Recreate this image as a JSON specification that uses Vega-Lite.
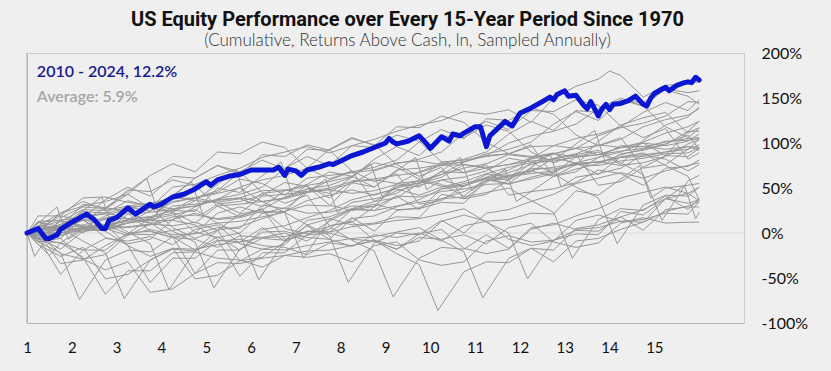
{"$schema":"https://vega.github.io/schema/vega-lite/v6.json","autosize":{"type":"none"},"width":717,"height":270,"padding":{"left":27,"top":53,"right":87,"bottom":48},"background":"#efefef",
"title":{"text":"US Equity Performance over Every 15-Year Period Since 1970","subtitle":"(Cumulative, Returns Above Cash, ln, Sampled Annually)","anchor":"middle","dx":22,"offset":-4,"font":"Roboto","fontSize":20,"fontWeight":"bold","color":"#111111","subtitleFont":"Lato","subtitleFontSize":17,"subtitleFontWeight":300,"subtitleColor":"#333333","subtitlePadding":3},
"config":{"view":{"stroke":"#cccccc"}},
"datasets":{
"b":[{"x":1,"y":0},{"x":1.25,"y":5},{"x":1.42,"y":-6},{"x":1.5,"y":-6},{"x":1.67,"y":-2},{"x":1.75,"y":4},{"x":2,"y":12},{"x":2.25,"y":19},{"x":2.33,"y":21},{"x":2.5,"y":15},{"x":2.67,"y":5},{"x":2.75,"y":5},{"x":2.83,"y":14},{"x":3,"y":17},{"x":3.25,"y":28},{"x":3.42,"y":21},{"x":3.75,"y":32},{"x":3.83,"y":29},{"x":4,"y":32},{"x":4.25,"y":40},{"x":4.5,"y":43},{"x":4.75,"y":49},{"x":5,"y":57},{"x":5.1,"y":53},{"x":5.25,"y":59},{"x":5.5,"y":63},{"x":5.75,"y":65},{"x":6,"y":70},{"x":6.25,"y":70},{"x":6.5,"y":70},{"x":6.62,"y":73},{"x":6.75,"y":64},{"x":6.83,"y":71},{"x":7,"y":69},{"x":7.12,"y":64},{"x":7.25,"y":70},{"x":7.5,"y":73},{"x":7.75,"y":77},{"x":7.83,"y":76},{"x":8,"y":80},{"x":8.25,"y":86},{"x":8.5,"y":90},{"x":8.75,"y":95},{"x":9,"y":100},{"x":9.08,"y":105},{"x":9.17,"y":101},{"x":9.25,"y":99},{"x":9.5,"y":102},{"x":9.75,"y":108},{"x":9.92,"y":99},{"x":10,"y":94},{"x":10.25,"y":107},{"x":10.42,"y":102},{"x":10.5,"y":110},{"x":10.67,"y":108},{"x":10.75,"y":111},{"x":11,"y":118},{"x":11.12,"y":118},{"x":11.25,"y":96},{"x":11.33,"y":108},{"x":11.5,"y":116},{"x":11.67,"y":124},{"x":11.75,"y":121},{"x":11.83,"y":119},{"x":12,"y":133},{"x":12.25,"y":139},{"x":12.5,"y":146},{"x":12.67,"y":151},{"x":12.75,"y":148},{"x":12.83,"y":154},{"x":13,"y":158},{"x":13.08,"y":152},{"x":13.25,"y":153},{"x":13.42,"y":142},{"x":13.5,"y":138},{"x":13.58,"y":146},{"x":13.75,"y":130},{"x":13.83,"y":138},{"x":13.92,"y":143},{"x":14,"y":137},{"x":14.08,"y":143},{"x":14.25,"y":144},{"x":14.42,"y":147},{"x":14.58,"y":152},{"x":14.75,"y":143},{"x":14.83,"y":141},{"x":14.92,"y":150},{"x":15,"y":155},{"x":15.17,"y":160},{"x":15.25,"y":162},{"x":15.33,"y":158},{"x":15.5,"y":164},{"x":15.67,"y":167},{"x":15.75,"y":168},{"x":15.83,"y":167},{"x":15.92,"y":173},{"x":16,"y":170}],
"g":[
{"p":1970,"x":1,"y":0},{"p":1970,"x":1.5,"y":-25},{"p":1970,"x":1.75,"y":-11},{"p":1970,"x":2.25,"y":6},{"p":1970,"x":2.75,"y":3},{"p":1970,"x":3.25,"y":11},{"p":1970,"x":3.75,"y":14},{"p":1970,"x":4.25,"y":14},{"p":1970,"x":4.75,"y":9},{"p":1970,"x":5.25,"y":-7},{"p":1970,"x":5.75,"y":-48},{"p":1970,"x":6.25,"y":-22},{"p":1970,"x":6.75,"y":-22},{"p":1970,"x":7.25,"y":-2},{"p":1970,"x":7.75,"y":0},{"p":1970,"x":8.25,"y":-7},{"p":1970,"x":8.75,"y":-9},{"p":1970,"x":9.25,"y":-18},{"p":1970,"x":9.75,"y":-5},{"p":1970,"x":10.25,"y":-7},{"p":1970,"x":10.75,"y":-2},{"p":1970,"x":11.25,"y":-12},{"p":1970,"x":11.75,"y":6},{"p":1970,"x":12.25,"y":11},{"p":1970,"x":12.75,"y":-10},{"p":1970,"x":13.25,"y":-16},{"p":1970,"x":13.75,"y":-11},{"p":1970,"x":14.25,"y":11},{"p":1970,"x":14.75,"y":17},{"p":1970,"x":15.25,"y":11},{"p":1970,"x":15.75,"y":12},{"p":1970,"x":16,"y":12},
{"p":1971,"x":1,"y":0},{"p":1971,"x":1.25,"y":8},{"p":1971,"x":1.75,"y":5},{"p":1971,"x":2.25,"y":14},{"p":1971,"x":2.75,"y":16},{"p":1971,"x":3.25,"y":16},{"p":1971,"x":3.75,"y":11},{"p":1971,"x":4.25,"y":-4},{"p":1971,"x":4.75,"y":-45},{"p":1971,"x":5.25,"y":-19},{"p":1971,"x":5.75,"y":-19},{"p":1971,"x":6.25,"y":1},{"p":1971,"x":6.75,"y":2},{"p":1971,"x":7.25,"y":-5},{"p":1971,"x":7.75,"y":-7},{"p":1971,"x":8.25,"y":-15},{"p":1971,"x":8.75,"y":-2},{"p":1971,"x":9.25,"y":-5},{"p":1971,"x":9.75,"y":0},{"p":1971,"x":10.25,"y":-9},{"p":1971,"x":10.75,"y":8},{"p":1971,"x":11.25,"y":13},{"p":1971,"x":11.75,"y":-7},{"p":1971,"x":12.25,"y":-14},{"p":1971,"x":12.75,"y":-9},{"p":1971,"x":13.25,"y":14},{"p":1971,"x":13.75,"y":20},{"p":1971,"x":14.25,"y":13},{"p":1971,"x":14.75,"y":15},{"p":1971,"x":15.25,"y":22},{"p":1971,"x":15.75,"y":21},{"p":1971,"x":16,"y":35},
{"p":1972,"x":1,"y":0},{"p":1972,"x":1.25,"y":5},{"p":1972,"x":1.75,"y":7},{"p":1972,"x":2.25,"y":7},{"p":1972,"x":2.75,"y":2},{"p":1972,"x":3.25,"y":-14},{"p":1972,"x":3.75,"y":-55},{"p":1972,"x":4.25,"y":-28},{"p":1972,"x":4.75,"y":-28},{"p":1972,"x":5.25,"y":-9},{"p":1972,"x":5.75,"y":-7},{"p":1972,"x":6.25,"y":-14},{"p":1972,"x":6.75,"y":-16},{"p":1972,"x":7.25,"y":-24},{"p":1972,"x":7.75,"y":-11},{"p":1972,"x":8.25,"y":-14},{"p":1972,"x":8.75,"y":-9},{"p":1972,"x":9.25,"y":-18},{"p":1972,"x":9.75,"y":-1},{"p":1972,"x":10.25,"y":4},{"p":1972,"x":10.75,"y":-17},{"p":1972,"x":11.25,"y":-23},{"p":1972,"x":11.75,"y":-18},{"p":1972,"x":12.25,"y":4},{"p":1972,"x":12.75,"y":11},{"p":1972,"x":13.25,"y":4},{"p":1972,"x":13.75,"y":6},{"p":1972,"x":14.25,"y":13},{"p":1972,"x":14.75,"y":12},{"p":1972,"x":15.25,"y":38},{"p":1972,"x":15.75,"y":33},{"p":1972,"x":16,"y":37},
{"p":1973,"x":1,"y":0},{"p":1973,"x":1.25,"y":-7},{"p":1973,"x":1.75,"y":-11},{"p":1973,"x":2.25,"y":-27},{"p":1973,"x":2.75,"y":-68},{"p":1973,"x":3.25,"y":-42},{"p":1973,"x":3.75,"y":-42},{"p":1973,"x":4.25,"y":-22},{"p":1973,"x":4.75,"y":-21},{"p":1973,"x":5.25,"y":-28},{"p":1973,"x":5.75,"y":-30},{"p":1973,"x":6.25,"y":-38},{"p":1973,"x":6.75,"y":-25},{"p":1973,"x":7.25,"y":-27},{"p":1973,"x":7.75,"y":-23},{"p":1973,"x":8.25,"y":-32},{"p":1973,"x":8.75,"y":-14},{"p":1973,"x":9.25,"y":-10},{"p":1973,"x":9.75,"y":-30},{"p":1973,"x":10.25,"y":-36},{"p":1973,"x":10.75,"y":-32},{"p":1973,"x":11.25,"y":-9},{"p":1973,"x":11.75,"y":-3},{"p":1973,"x":12.25,"y":-10},{"p":1973,"x":12.75,"y":-8},{"p":1973,"x":13.25,"y":-1},{"p":1973,"x":13.75,"y":-2},{"p":1973,"x":14.25,"y":24},{"p":1973,"x":14.75,"y":20},{"p":1973,"x":15.67,"y":53},{"p":1973,"x":15.92,"y":16},{"p":1973,"x":16,"y":23},
{"p":1974,"x":1,"y":0},{"p":1974,"x":1.25,"y":-5},{"p":1974,"x":1.75,"y":-46},{"p":1974,"x":2.25,"y":-19},{"p":1974,"x":2.75,"y":-19},{"p":1974,"x":3.25,"y":0},{"p":1974,"x":3.75,"y":2},{"p":1974,"x":4.25,"y":-5},{"p":1974,"x":4.75,"y":-7},{"p":1974,"x":5.25,"y":-16},{"p":1974,"x":5.75,"y":-3},{"p":1974,"x":6.25,"y":-5},{"p":1974,"x":6.75,"y":0},{"p":1974,"x":7.25,"y":-9},{"p":1974,"x":7.75,"y":8},{"p":1974,"x":8.25,"y":13},{"p":1974,"x":8.75,"y":-8},{"p":1974,"x":9.25,"y":-14},{"p":1974,"x":9.75,"y":-9},{"p":1974,"x":10.25,"y":13},{"p":1974,"x":10.75,"y":20},{"p":1974,"x":11.25,"y":13},{"p":1974,"x":11.75,"y":15},{"p":1974,"x":12.25,"y":22},{"p":1974,"x":12.75,"y":21},{"p":1974,"x":13.25,"y":47},{"p":1974,"x":13.75,"y":42},{"p":1974,"x":14.67,"y":75},{"p":1974,"x":14.92,"y":39},{"p":1974,"x":15.25,"y":50},{"p":1974,"x":15.75,"y":53},{"p":1974,"x":16,"y":55},
{"p":1975,"x":1,"y":0},{"p":1975,"x":1.25,"y":19},{"p":1975,"x":1.75,"y":19},{"p":1975,"x":2.25,"y":39},{"p":1975,"x":2.75,"y":40},{"p":1975,"x":3.25,"y":34},{"p":1975,"x":3.75,"y":31},{"p":1975,"x":4.25,"y":23},{"p":1975,"x":4.75,"y":36},{"p":1975,"x":5.25,"y":34},{"p":1975,"x":5.75,"y":38},{"p":1975,"x":6.25,"y":29},{"p":1975,"x":6.75,"y":47},{"p":1975,"x":7.25,"y":52},{"p":1975,"x":7.75,"y":31},{"p":1975,"x":8.25,"y":25},{"p":1975,"x":8.75,"y":30},{"p":1975,"x":9.25,"y":52},{"p":1975,"x":9.75,"y":58},{"p":1975,"x":10.25,"y":52},{"p":1975,"x":10.75,"y":53},{"p":1975,"x":11.25,"y":60},{"p":1975,"x":11.75,"y":59},{"p":1975,"x":12.25,"y":85},{"p":1975,"x":12.75,"y":81},{"p":1975,"x":13.67,"y":114},{"p":1975,"x":13.92,"y":77},{"p":1975,"x":14.25,"y":88},{"p":1975,"x":14.75,"y":92},{"p":1975,"x":15.25,"y":98},{"p":1975,"x":15.75,"y":113},{"p":1975,"x":16,"y":113},
{"p":1976,"x":1,"y":0},{"p":1976,"x":1.25,"y":13},{"p":1976,"x":1.75,"y":14},{"p":1976,"x":2.25,"y":8},{"p":1976,"x":2.75,"y":5},{"p":1976,"x":3.25,"y":-3},{"p":1976,"x":3.75,"y":10},{"p":1976,"x":4.25,"y":8},{"p":1976,"x":4.75,"y":12},{"p":1976,"x":5.25,"y":3},{"p":1976,"x":5.75,"y":21},{"p":1976,"x":6.25,"y":26},{"p":1976,"x":6.75,"y":5},{"p":1976,"x":7.25,"y":-1},{"p":1976,"x":7.75,"y":4},{"p":1976,"x":8.25,"y":26},{"p":1976,"x":8.75,"y":32},{"p":1976,"x":9.25,"y":26},{"p":1976,"x":9.75,"y":27},{"p":1976,"x":10.25,"y":34},{"p":1976,"x":10.75,"y":33},{"p":1976,"x":11.25,"y":59},{"p":1976,"x":11.75,"y":55},{"p":1976,"x":12.67,"y":88},{"p":1976,"x":12.92,"y":51},{"p":1976,"x":13.25,"y":62},{"p":1976,"x":13.75,"y":66},{"p":1976,"x":14.25,"y":72},{"p":1976,"x":14.75,"y":87},{"p":1976,"x":15.25,"y":82},{"p":1976,"x":15.75,"y":69},{"p":1976,"x":16,"y":76},
{"p":1977,"x":1,"y":0},{"p":1977,"x":1.25,"y":-9},{"p":1977,"x":1.75,"y":-11},{"p":1977,"x":2.25,"y":-19},{"p":1977,"x":2.75,"y":-6},{"p":1977,"x":3.25,"y":-9},{"p":1977,"x":3.75,"y":-4},{"p":1977,"x":4.25,"y":-13},{"p":1977,"x":4.75,"y":4},{"p":1977,"x":5.25,"y":9},{"p":1977,"x":5.75,"y":-12},{"p":1977,"x":6.25,"y":-18},{"p":1977,"x":6.75,"y":-13},{"p":1977,"x":7.25,"y":9},{"p":1977,"x":7.75,"y":16},{"p":1977,"x":8.25,"y":9},{"p":1977,"x":8.75,"y":11},{"p":1977,"x":9.25,"y":18},{"p":1977,"x":9.75,"y":17},{"p":1977,"x":10.25,"y":43},{"p":1977,"x":10.75,"y":38},{"p":1977,"x":11.67,"y":71},{"p":1977,"x":11.92,"y":35},{"p":1977,"x":12.25,"y":46},{"p":1977,"x":12.75,"y":49},{"p":1977,"x":13.25,"y":56},{"p":1977,"x":13.75,"y":70},{"p":1977,"x":14.25,"y":66},{"p":1977,"x":14.75,"y":53},{"p":1977,"x":15.25,"y":72},{"p":1977,"x":15.75,"y":74},{"p":1977,"x":16,"y":81},
{"p":1978,"x":1,"y":0},{"p":1978,"x":1.25,"y":-7},{"p":1978,"x":1.75,"y":6},{"p":1978,"x":2.25,"y":4},{"p":1978,"x":2.75,"y":9},{"p":1978,"x":3.25,"y":-1},{"p":1978,"x":3.75,"y":17},{"p":1978,"x":4.25,"y":22},{"p":1978,"x":4.75,"y":1},{"p":1978,"x":5.25,"y":-5},{"p":1978,"x":5.75,"y":0},{"p":1978,"x":6.25,"y":22},{"p":1978,"x":6.75,"y":28},{"p":1978,"x":7.25,"y":22},{"p":1978,"x":7.75,"y":23},{"p":1978,"x":8.25,"y":30},{"p":1978,"x":8.75,"y":29},{"p":1978,"x":9.25,"y":55},{"p":1978,"x":9.75,"y":51},{"p":1978,"x":10.67,"y":84},{"p":1978,"x":10.92,"y":47},{"p":1978,"x":11.25,"y":58},{"p":1978,"x":11.75,"y":62},{"p":1978,"x":12.25,"y":68},{"p":1978,"x":12.75,"y":83},{"p":1978,"x":13.25,"y":78},{"p":1978,"x":13.75,"y":65},{"p":1978,"x":14.25,"y":85},{"p":1978,"x":14.75,"y":87},{"p":1978,"x":15.25,"y":90},{"p":1978,"x":15.75,"y":93},{"p":1978,"x":16,"y":98},
{"p":1979,"x":1,"y":0},{"p":1979,"x":1.25,"y":4},{"p":1979,"x":1.75,"y":9},{"p":1979,"x":2.25,"y":0},{"p":1979,"x":2.75,"y":17},{"p":1979,"x":3.25,"y":22},{"p":1979,"x":3.75,"y":2},{"p":1979,"x":4.25,"y":-5},{"p":1979,"x":4.75,"y":0},{"p":1979,"x":5.25,"y":22},{"p":1979,"x":5.75,"y":29},{"p":1979,"x":6.25,"y":22},{"p":1979,"x":6.75,"y":24},{"p":1979,"x":7.25,"y":31},{"p":1979,"x":7.75,"y":30},{"p":1979,"x":8.25,"y":56},{"p":1979,"x":8.75,"y":51},{"p":1979,"x":9.67,"y":84},{"p":1979,"x":9.92,"y":48},{"p":1979,"x":10.25,"y":59},{"p":1979,"x":10.75,"y":62},{"p":1979,"x":11.25,"y":69},{"p":1979,"x":11.75,"y":83},{"p":1979,"x":12.25,"y":79},{"p":1979,"x":12.75,"y":66},{"p":1979,"x":13.25,"y":85},{"p":1979,"x":13.75,"y":87},{"p":1979,"x":14.25,"y":91},{"p":1979,"x":14.75,"y":94},{"p":1979,"x":15.25,"y":102},{"p":1979,"x":15.75,"y":103},{"p":1979,"x":16,"y":105},
{"p":1980,"x":1,"y":0},{"p":1980,"x":1.25,"y":-7},{"p":1980,"x":1.75,"y":10},{"p":1980,"x":2.25,"y":15},{"p":1980,"x":2.75,"y":-5},{"p":1980,"x":3.25,"y":-12},{"p":1980,"x":3.75,"y":-7},{"p":1980,"x":4.25,"y":15},{"p":1980,"x":4.75,"y":22},{"p":1980,"x":5.25,"y":15},{"p":1980,"x":5.75,"y":17},{"p":1980,"x":6.25,"y":24},{"p":1980,"x":6.75,"y":23},{"p":1980,"x":7.25,"y":49},{"p":1980,"x":7.75,"y":44},{"p":1980,"x":8.67,"y":77},{"p":1980,"x":8.92,"y":41},{"p":1980,"x":9.25,"y":52},{"p":1980,"x":9.75,"y":55},{"p":1980,"x":10.25,"y":62},{"p":1980,"x":10.75,"y":76},{"p":1980,"x":11.25,"y":72},{"p":1980,"x":11.75,"y":59},{"p":1980,"x":12.25,"y":78},{"p":1980,"x":12.75,"y":80},{"p":1980,"x":13.25,"y":84},{"p":1980,"x":13.75,"y":87},{"p":1980,"x":14.25,"y":95},{"p":1980,"x":14.75,"y":96},{"p":1980,"x":15.25,"y":93},{"p":1980,"x":15.75,"y":96},{"p":1980,"x":16,"y":95},
{"p":1981,"x":1,"y":0},{"p":1981,"x":1.25,"y":-2},{"p":1981,"x":1.75,"y":-23},{"p":1981,"x":2.25,"y":-29},{"p":1981,"x":2.75,"y":-24},{"p":1981,"x":3.25,"y":-2},{"p":1981,"x":3.75,"y":4},{"p":1981,"x":4.25,"y":-2},{"p":1981,"x":4.75,"y":-1},{"p":1981,"x":5.25,"y":6},{"p":1981,"x":5.75,"y":5},{"p":1981,"x":6.25,"y":31},{"p":1981,"x":6.75,"y":27},{"p":1981,"x":7.67,"y":60},{"p":1981,"x":7.92,"y":23},{"p":1981,"x":8.25,"y":34},{"p":1981,"x":8.75,"y":38},{"p":1981,"x":9.25,"y":44},{"p":1981,"x":9.75,"y":59},{"p":1981,"x":10.25,"y":54},{"p":1981,"x":10.75,"y":41},{"p":1981,"x":11.25,"y":61},{"p":1981,"x":11.75,"y":63},{"p":1981,"x":12.25,"y":66},{"p":1981,"x":12.75,"y":69},{"p":1981,"x":13.25,"y":77},{"p":1981,"x":13.75,"y":79},{"p":1981,"x":14.25,"y":75},{"p":1981,"x":14.75,"y":78},{"p":1981,"x":15.25,"y":85},{"p":1981,"x":15.75,"y":99},{"p":1981,"x":16,"y":104},
{"p":1982,"x":1,"y":0},{"p":1982,"x":1.25,"y":-10},{"p":1982,"x":1.75,"y":-6},{"p":1982,"x":2.25,"y":17},{"p":1982,"x":2.75,"y":23},{"p":1982,"x":3.25,"y":16},{"p":1982,"x":3.75,"y":18},{"p":1982,"x":4.25,"y":25},{"p":1982,"x":4.75,"y":24},{"p":1982,"x":5.25,"y":50},{"p":1982,"x":5.75,"y":45},{"p":1982,"x":6.67,"y":79},{"p":1982,"x":6.92,"y":42},{"p":1982,"x":7.25,"y":53},{"p":1982,"x":7.75,"y":57},{"p":1982,"x":8.25,"y":63},{"p":1982,"x":8.75,"y":78},{"p":1982,"x":9.25,"y":73},{"p":1982,"x":9.75,"y":60},{"p":1982,"x":10.25,"y":79},{"p":1982,"x":10.75,"y":81},{"p":1982,"x":11.25,"y":85},{"p":1982,"x":11.75,"y":88},{"p":1982,"x":12.25,"y":96},{"p":1982,"x":12.75,"y":97},{"p":1982,"x":13.25,"y":94},{"p":1982,"x":13.75,"y":97},{"p":1982,"x":14.25,"y":104},{"p":1982,"x":14.75,"y":118},{"p":1982,"x":15.25,"y":126},{"p":1982,"x":15.75,"y":131},{"p":1982,"x":16,"y":138},
{"p":1983,"x":1,"y":0},{"p":1983,"x":1.25,"y":7},{"p":1983,"x":1.75,"y":13},{"p":1983,"x":2.25,"y":7},{"p":1983,"x":2.75,"y":9},{"p":1983,"x":3.25,"y":15},{"p":1983,"x":3.75,"y":14},{"p":1983,"x":4.25,"y":41},{"p":1983,"x":4.75,"y":36},{"p":1983,"x":5.67,"y":69},{"p":1983,"x":5.92,"y":33},{"p":1983,"x":6.25,"y":44},{"p":1983,"x":6.75,"y":47},{"p":1983,"x":7.25,"y":54},{"p":1983,"x":7.75,"y":68},{"p":1983,"x":8.25,"y":63},{"p":1983,"x":8.75,"y":51},{"p":1983,"x":9.25,"y":70},{"p":1983,"x":9.75,"y":72},{"p":1983,"x":10.25,"y":76},{"p":1983,"x":10.75,"y":79},{"p":1983,"x":11.25,"y":86},{"p":1983,"x":11.75,"y":88},{"p":1983,"x":12.25,"y":85},{"p":1983,"x":12.75,"y":88},{"p":1983,"x":13.25,"y":94},{"p":1983,"x":13.75,"y":108},{"p":1983,"x":14.25,"y":117},{"p":1983,"x":14.75,"y":122},{"p":1983,"x":15.25,"y":130},{"p":1983,"x":15.75,"y":146},{"p":1983,"x":16,"y":145},
{"p":1984,"x":1,"y":0},{"p":1984,"x":1.25,"y":-5},{"p":1984,"x":1.75,"y":-3},{"p":1984,"x":2.25,"y":4},{"p":1984,"x":2.75,"y":3},{"p":1984,"x":3.25,"y":29},{"p":1984,"x":3.75,"y":24},{"p":1984,"x":4.67,"y":57},{"p":1984,"x":4.92,"y":21},{"p":1984,"x":5.25,"y":32},{"p":1984,"x":5.75,"y":35},{"p":1984,"x":6.25,"y":42},{"p":1984,"x":6.75,"y":56},{"p":1984,"x":7.25,"y":52},{"p":1984,"x":7.75,"y":39},{"p":1984,"x":8.25,"y":58},{"p":1984,"x":8.75,"y":60},{"p":1984,"x":9.25,"y":64},{"p":1984,"x":9.75,"y":67},{"p":1984,"x":10.25,"y":75},{"p":1984,"x":10.75,"y":76},{"p":1984,"x":11.25,"y":73},{"p":1984,"x":11.75,"y":76},{"p":1984,"x":12.25,"y":83},{"p":1984,"x":12.75,"y":97},{"p":1984,"x":13.25,"y":105},{"p":1984,"x":13.75,"y":110},{"p":1984,"x":14.25,"y":118},{"p":1984,"x":14.75,"y":134},{"p":1984,"x":15.25,"y":145},{"p":1984,"x":15.75,"y":136},{"p":1984,"x":16,"y":148},
{"p":1985,"x":1,"y":0},{"p":1985,"x":1.25,"y":7},{"p":1985,"x":1.75,"y":6},{"p":1985,"x":2.25,"y":32},{"p":1985,"x":2.75,"y":28},{"p":1985,"x":3.67,"y":61},{"p":1985,"x":3.92,"y":24},{"p":1985,"x":4.25,"y":35},{"p":1985,"x":4.75,"y":39},{"p":1985,"x":5.25,"y":45},{"p":1985,"x":5.75,"y":60},{"p":1985,"x":6.25,"y":55},{"p":1985,"x":6.75,"y":42},{"p":1985,"x":7.25,"y":61},{"p":1985,"x":7.75,"y":64},{"p":1985,"x":8.25,"y":67},{"p":1985,"x":8.75,"y":70},{"p":1985,"x":9.25,"y":78},{"p":1985,"x":9.75,"y":80},{"p":1985,"x":10.25,"y":76},{"p":1985,"x":10.75,"y":79},{"p":1985,"x":11.25,"y":86},{"p":1985,"x":11.75,"y":100},{"p":1985,"x":12.25,"y":108},{"p":1985,"x":12.75,"y":113},{"p":1985,"x":13.25,"y":121},{"p":1985,"x":13.75,"y":138},{"p":1985,"x":14.25,"y":150},{"p":1985,"x":14.75,"y":141},{"p":1985,"x":15.25,"y":160},{"p":1985,"x":15.75,"y":156},{"p":1985,"x":16,"y":158},
{"p":1986,"x":1,"y":0},{"p":1986,"x":1.25,"y":12},{"p":1986,"x":1.75,"y":7},{"p":1986,"x":2.67,"y":40},{"p":1986,"x":2.92,"y":4},{"p":1986,"x":3.25,"y":15},{"p":1986,"x":3.75,"y":18},{"p":1986,"x":4.25,"y":25},{"p":1986,"x":4.75,"y":39},{"p":1986,"x":5.25,"y":34},{"p":1986,"x":5.75,"y":22},{"p":1986,"x":6.25,"y":41},{"p":1986,"x":6.75,"y":43},{"p":1986,"x":7.25,"y":46},{"p":1986,"x":7.75,"y":50},{"p":1986,"x":8.25,"y":57},{"p":1986,"x":8.75,"y":59},{"p":1986,"x":9.25,"y":55},{"p":1986,"x":9.75,"y":58},{"p":1986,"x":10.25,"y":65},{"p":1986,"x":10.75,"y":79},{"p":1986,"x":11.25,"y":88},{"p":1986,"x":11.75,"y":93},{"p":1986,"x":12.25,"y":101},{"p":1986,"x":12.75,"y":121},{"p":1986,"x":13.25,"y":135},{"p":1986,"x":13.75,"y":125},{"p":1986,"x":14.25,"y":147},{"p":1986,"x":14.75,"y":145},{"p":1986,"x":15.25,"y":159},{"p":1986,"x":15.75,"y":152},{"p":1986,"x":16,"y":143},
{"p":1987,"x":1,"y":0},{"p":1987,"x":1.67,"y":29},{"p":1987,"x":1.92,"y":-7},{"p":1987,"x":2.25,"y":4},{"p":1987,"x":2.75,"y":7},{"p":1987,"x":3.25,"y":14},{"p":1987,"x":3.75,"y":28},{"p":1987,"x":4.25,"y":23},{"p":1987,"x":4.75,"y":11},{"p":1987,"x":5.25,"y":30},{"p":1987,"x":5.75,"y":32},{"p":1987,"x":6.25,"y":35},{"p":1987,"x":6.75,"y":39},{"p":1987,"x":7.25,"y":46},{"p":1987,"x":7.75,"y":48},{"p":1987,"x":8.25,"y":44},{"p":1987,"x":8.75,"y":47},{"p":1987,"x":9.25,"y":54},{"p":1987,"x":9.75,"y":68},{"p":1987,"x":10.25,"y":77},{"p":1987,"x":10.75,"y":82},{"p":1987,"x":11.25,"y":90},{"p":1987,"x":11.75,"y":110},{"p":1987,"x":12.25,"y":124},{"p":1987,"x":12.75,"y":114},{"p":1987,"x":13.25,"y":136},{"p":1987,"x":13.75,"y":134},{"p":1987,"x":14.25,"y":148},{"p":1987,"x":14.75,"y":141},{"p":1987,"x":15.25,"y":118},{"p":1987,"x":15.75,"y":106},{"p":1987,"x":16,"y":116},
{"p":1988,"x":1,"y":0},{"p":1988,"x":1.25,"y":4},{"p":1988,"x":1.75,"y":7},{"p":1988,"x":2.25,"y":14},{"p":1988,"x":2.75,"y":28},{"p":1988,"x":3.25,"y":24},{"p":1988,"x":3.75,"y":11},{"p":1988,"x":4.25,"y":30},{"p":1988,"x":4.75,"y":32},{"p":1988,"x":5.25,"y":36},{"p":1988,"x":5.75,"y":39},{"p":1988,"x":6.25,"y":47},{"p":1988,"x":6.75,"y":48},{"p":1988,"x":7.25,"y":45},{"p":1988,"x":7.75,"y":48},{"p":1988,"x":8.25,"y":55},{"p":1988,"x":8.75,"y":69},{"p":1988,"x":9.25,"y":77},{"p":1988,"x":9.75,"y":82},{"p":1988,"x":10.25,"y":90},{"p":1988,"x":10.75,"y":111},{"p":1988,"x":11.25,"y":124},{"p":1988,"x":11.75,"y":115},{"p":1988,"x":12.25,"y":136},{"p":1988,"x":12.75,"y":135},{"p":1988,"x":13.25,"y":148},{"p":1988,"x":13.75,"y":142},{"p":1988,"x":14.25,"y":119},{"p":1988,"x":14.75,"y":106},{"p":1988,"x":15.25,"y":116},{"p":1988,"x":15.75,"y":82},{"p":1988,"x":16,"y":89},
{"p":1989,"x":1,"y":0},{"p":1989,"x":1.25,"y":5},{"p":1989,"x":1.75,"y":19},{"p":1989,"x":2.25,"y":14},{"p":1989,"x":2.75,"y":2},{"p":1989,"x":3.25,"y":21},{"p":1989,"x":3.75,"y":23},{"p":1989,"x":4.25,"y":26},{"p":1989,"x":4.75,"y":30},{"p":1989,"x":5.25,"y":37},{"p":1989,"x":5.75,"y":39},{"p":1989,"x":6.25,"y":35},{"p":1989,"x":6.75,"y":38},{"p":1989,"x":7.25,"y":45},{"p":1989,"x":7.75,"y":59},{"p":1989,"x":8.25,"y":68},{"p":1989,"x":8.75,"y":73},{"p":1989,"x":9.25,"y":81},{"p":1989,"x":9.75,"y":101},{"p":1989,"x":10.25,"y":115},{"p":1989,"x":10.75,"y":105},{"p":1989,"x":11.25,"y":127},{"p":1989,"x":11.75,"y":125},{"p":1989,"x":12.25,"y":139},{"p":1989,"x":12.75,"y":132},{"p":1989,"x":13.25,"y":109},{"p":1989,"x":13.75,"y":97},{"p":1989,"x":14.25,"y":106},{"p":1989,"x":14.75,"y":72},{"p":1989,"x":15.25,"y":76},{"p":1989,"x":15.75,"y":93},{"p":1989,"x":16,"y":104},
{"p":1990,"x":1,"y":0},{"p":1990,"x":1.25,"y":-5},{"p":1990,"x":1.75,"y":-18},{"p":1990,"x":2.25,"y":2},{"p":1990,"x":2.75,"y":4},{"p":1990,"x":3.25,"y":7},{"p":1990,"x":3.75,"y":10},{"p":1990,"x":4.25,"y":18},{"p":1990,"x":4.75,"y":20},{"p":1990,"x":5.25,"y":16},{"p":1990,"x":5.75,"y":19},{"p":1990,"x":6.25,"y":26},{"p":1990,"x":6.75,"y":40},{"p":1990,"x":7.25,"y":49},{"p":1990,"x":7.75,"y":53},{"p":1990,"x":8.25,"y":62},{"p":1990,"x":8.75,"y":82},{"p":1990,"x":9.25,"y":96},{"p":1990,"x":9.75,"y":86},{"p":1990,"x":10.25,"y":108},{"p":1990,"x":10.75,"y":106},{"p":1990,"x":11.25,"y":120},{"p":1990,"x":11.75,"y":113},{"p":1990,"x":12.25,"y":90},{"p":1990,"x":12.75,"y":78},{"p":1990,"x":13.25,"y":87},{"p":1990,"x":13.75,"y":53},{"p":1990,"x":14.25,"y":57},{"p":1990,"x":14.75,"y":73},{"p":1990,"x":15.25,"y":86},{"p":1990,"x":15.75,"y":85},{"p":1990,"x":16,"y":94},
{"p":1991,"x":1,"y":0},{"p":1991,"x":1.25,"y":12},{"p":1991,"x":1.75,"y":14},{"p":1991,"x":2.25,"y":18},{"p":1991,"x":2.75,"y":21},{"p":1991,"x":3.25,"y":29},{"p":1991,"x":3.75,"y":30},{"p":1991,"x":4.25,"y":27},{"p":1991,"x":4.75,"y":30},{"p":1991,"x":5.25,"y":37},{"p":1991,"x":5.75,"y":51},{"p":1991,"x":6.25,"y":59},{"p":1991,"x":6.75,"y":64},{"p":1991,"x":7.25,"y":72},{"p":1991,"x":7.75,"y":93},{"p":1991,"x":8.25,"y":106},{"p":1991,"x":8.75,"y":97},{"p":1991,"x":9.25,"y":118},{"p":1991,"x":9.75,"y":117},{"p":1991,"x":10.25,"y":130},{"p":1991,"x":10.75,"y":123},{"p":1991,"x":11.25,"y":101},{"p":1991,"x":11.75,"y":88},{"p":1991,"x":12.25,"y":98},{"p":1991,"x":12.75,"y":63},{"p":1991,"x":13.25,"y":68},{"p":1991,"x":13.75,"y":84},{"p":1991,"x":14.25,"y":97},{"p":1991,"x":14.75,"y":96},{"p":1991,"x":15.25,"y":101},{"p":1991,"x":15.75,"y":105},{"p":1991,"x":16,"y":106},
{"p":1992,"x":1,"y":0},{"p":1992,"x":1.25,"y":-3},{"p":1992,"x":1.75,"y":0},{"p":1992,"x":2.25,"y":7},{"p":1992,"x":2.75,"y":9},{"p":1992,"x":3.25,"y":6},{"p":1992,"x":3.75,"y":9},{"p":1992,"x":4.25,"y":15},{"p":1992,"x":4.75,"y":29},{"p":1992,"x":5.25,"y":38},{"p":1992,"x":5.75,"y":43},{"p":1992,"x":6.25,"y":51},{"p":1992,"x":6.75,"y":72},{"p":1992,"x":7.25,"y":85},{"p":1992,"x":7.75,"y":75},{"p":1992,"x":8.25,"y":97},{"p":1992,"x":8.75,"y":95},{"p":1992,"x":9.25,"y":109},{"p":1992,"x":9.75,"y":102},{"p":1992,"x":10.25,"y":79},{"p":1992,"x":10.75,"y":67},{"p":1992,"x":11.25,"y":76},{"p":1992,"x":11.75,"y":42},{"p":1992,"x":12.25,"y":46},{"p":1992,"x":12.75,"y":63},{"p":1992,"x":13.25,"y":76},{"p":1992,"x":13.75,"y":75},{"p":1992,"x":14.25,"y":80},{"p":1992,"x":14.75,"y":83},{"p":1992,"x":15.25,"y":88},{"p":1992,"x":15.75,"y":89},{"p":1992,"x":16,"y":95},
{"p":1993,"x":1,"y":0},{"p":1993,"x":1.25,"y":4},{"p":1993,"x":1.75,"y":5},{"p":1993,"x":2.25,"y":2},{"p":1993,"x":2.75,"y":5},{"p":1993,"x":3.25,"y":11},{"p":1993,"x":3.75,"y":25},{"p":1993,"x":4.25,"y":34},{"p":1993,"x":4.75,"y":39},{"p":1993,"x":5.25,"y":47},{"p":1993,"x":5.75,"y":68},{"p":1993,"x":6.25,"y":81},{"p":1993,"x":6.75,"y":71},{"p":1993,"x":7.25,"y":93},{"p":1993,"x":7.75,"y":92},{"p":1993,"x":8.25,"y":105},{"p":1993,"x":8.75,"y":98},{"p":1993,"x":9.25,"y":76},{"p":1993,"x":9.75,"y":63},{"p":1993,"x":10.25,"y":73},{"p":1993,"x":10.75,"y":38},{"p":1993,"x":11.25,"y":43},{"p":1993,"x":11.75,"y":59},{"p":1993,"x":12.25,"y":72},{"p":1993,"x":12.75,"y":71},{"p":1993,"x":13.25,"y":76},{"p":1993,"x":13.75,"y":79},{"p":1993,"x":14.25,"y":84},{"p":1993,"x":14.75,"y":85},{"p":1993,"x":15.25,"y":90},{"p":1993,"x":15.75,"y":96},{"p":1993,"x":16,"y":92},
{"p":1994,"x":1,"y":0},{"p":1994,"x":1.25,"y":-5},{"p":1994,"x":1.75,"y":-2},{"p":1994,"x":2.25,"y":5},{"p":1994,"x":2.75,"y":19},{"p":1994,"x":3.25,"y":27},{"p":1994,"x":3.75,"y":32},{"p":1994,"x":4.25,"y":40},{"p":1994,"x":4.75,"y":61},{"p":1994,"x":5.25,"y":75},{"p":1994,"x":5.75,"y":65},{"p":1994,"x":6.25,"y":87},{"p":1994,"x":6.75,"y":85},{"p":1994,"x":7.25,"y":98},{"p":1994,"x":7.75,"y":92},{"p":1994,"x":8.25,"y":69},{"p":1994,"x":8.75,"y":57},{"p":1994,"x":9.25,"y":66},{"p":1994,"x":9.75,"y":32},{"p":1994,"x":10.25,"y":36},{"p":1994,"x":10.75,"y":52},{"p":1994,"x":11.25,"y":65},{"p":1994,"x":11.75,"y":64},{"p":1994,"x":12.25,"y":70},{"p":1994,"x":12.75,"y":73},{"p":1994,"x":13.25,"y":77},{"p":1994,"x":13.75,"y":79},{"p":1994,"x":14.25,"y":84},{"p":1994,"x":14.75,"y":89},{"p":1994,"x":15.25,"y":75},{"p":1994,"x":15.75,"y":63},{"p":1994,"x":16,"y":37},
{"p":1995,"x":1,"y":0},{"p":1995,"x":1.25,"y":8},{"p":1995,"x":1.75,"y":22},{"p":1995,"x":2.25,"y":30},{"p":1995,"x":2.75,"y":35},{"p":1995,"x":3.25,"y":43},{"p":1995,"x":3.75,"y":64},{"p":1995,"x":4.25,"y":77},{"p":1995,"x":4.75,"y":68},{"p":1995,"x":5.25,"y":90},{"p":1995,"x":5.75,"y":88},{"p":1995,"x":6.25,"y":101},{"p":1995,"x":6.75,"y":95},{"p":1995,"x":7.25,"y":72},{"p":1995,"x":7.75,"y":60},{"p":1995,"x":8.25,"y":69},{"p":1995,"x":8.75,"y":35},{"p":1995,"x":9.25,"y":39},{"p":1995,"x":9.75,"y":55},{"p":1995,"x":10.25,"y":68},{"p":1995,"x":10.75,"y":67},{"p":1995,"x":11.25,"y":72},{"p":1995,"x":11.75,"y":76},{"p":1995,"x":12.25,"y":80},{"p":1995,"x":12.75,"y":82},{"p":1995,"x":13.25,"y":87},{"p":1995,"x":13.75,"y":92},{"p":1995,"x":14.25,"y":78},{"p":1995,"x":14.75,"y":65},{"p":1995,"x":15.17,"y":14},{"p":1995,"x":15.75,"y":58},{"p":1995,"x":16,"y":64},
{"p":1996,"x":1,"y":0},{"p":1996,"x":1.25,"y":4},{"p":1996,"x":1.75,"y":9},{"p":1996,"x":2.25,"y":17},{"p":1996,"x":2.75,"y":37},{"p":1996,"x":3.25,"y":51},{"p":1996,"x":3.75,"y":41},{"p":1996,"x":4.25,"y":63},{"p":1996,"x":4.75,"y":61},{"p":1996,"x":5.25,"y":75},{"p":1996,"x":5.75,"y":68},{"p":1996,"x":6.25,"y":45},{"p":1996,"x":6.75,"y":33},{"p":1996,"x":7.25,"y":42},{"p":1996,"x":7.75,"y":8},{"p":1996,"x":8.25,"y":12},{"p":1996,"x":8.75,"y":29},{"p":1996,"x":9.25,"y":41},{"p":1996,"x":9.75,"y":40},{"p":1996,"x":10.25,"y":46},{"p":1996,"x":10.75,"y":49},{"p":1996,"x":11.25,"y":54},{"p":1996,"x":11.75,"y":55},{"p":1996,"x":12.25,"y":60},{"p":1996,"x":12.75,"y":66},{"p":1996,"x":13.25,"y":51},{"p":1996,"x":13.75,"y":39},{"p":1996,"x":14.17,"y":-12},{"p":1996,"x":14.75,"y":31},{"p":1996,"x":15.25,"y":42},{"p":1996,"x":15.75,"y":41},{"p":1996,"x":16,"y":51},
{"p":1997,"x":1,"y":0},{"p":1997,"x":1.25,"y":1},{"p":1997,"x":1.75,"y":22},{"p":1997,"x":2.25,"y":35},{"p":1997,"x":2.75,"y":26},{"p":1997,"x":3.25,"y":48},{"p":1997,"x":3.75,"y":46},{"p":1997,"x":4.25,"y":59},{"p":1997,"x":4.75,"y":53},{"p":1997,"x":5.25,"y":30},{"p":1997,"x":5.75,"y":18},{"p":1997,"x":6.25,"y":27},{"p":1997,"x":6.75,"y":-7},{"p":1997,"x":7.25,"y":-3},{"p":1997,"x":7.75,"y":13},{"p":1997,"x":8.25,"y":26},{"p":1997,"x":8.75,"y":25},{"p":1997,"x":9.25,"y":30},{"p":1997,"x":9.75,"y":34},{"p":1997,"x":10.25,"y":38},{"p":1997,"x":10.75,"y":40},{"p":1997,"x":11.25,"y":45},{"p":1997,"x":11.75,"y":50},{"p":1997,"x":12.25,"y":36},{"p":1997,"x":12.75,"y":23},{"p":1997,"x":13.17,"y":-28},{"p":1997,"x":13.75,"y":15},{"p":1997,"x":14.25,"y":27},{"p":1997,"x":14.75,"y":25},{"p":1997,"x":15.25,"y":41},{"p":1997,"x":15.75,"y":26},{"p":1997,"x":16,"y":38},
{"p":1998,"x":1,"y":0},{"p":1998,"x":1.25,"y":12},{"p":1998,"x":1.75,"y":2},{"p":1998,"x":2.25,"y":24},{"p":1998,"x":2.75,"y":22},{"p":1998,"x":3.25,"y":36},{"p":1998,"x":3.75,"y":29},{"p":1998,"x":4.25,"y":6},{"p":1998,"x":4.75,"y":-6},{"p":1998,"x":5.25,"y":3},{"p":1998,"x":5.75,"y":-31},{"p":1998,"x":6.25,"y":-27},{"p":1998,"x":6.75,"y":-10},{"p":1998,"x":7.25,"y":2},{"p":1998,"x":7.75,"y":1},{"p":1998,"x":8.25,"y":7},{"p":1998,"x":8.75,"y":10},{"p":1998,"x":9.25,"y":14},{"p":1998,"x":9.75,"y":16},{"p":1998,"x":10.25,"y":21},{"p":1998,"x":10.75,"y":27},{"p":1998,"x":11.25,"y":12},{"p":1998,"x":11.75,"y":0},{"p":1998,"x":12.17,"y":-51},{"p":1998,"x":12.75,"y":-8},{"p":1998,"x":13.25,"y":3},{"p":1998,"x":13.75,"y":2},{"p":1998,"x":14.25,"y":18},{"p":1998,"x":14.75,"y":3},{"p":1998,"x":15.25,"y":26},{"p":1998,"x":15.75,"y":29},{"p":1998,"x":16,"y":29},
{"p":1999,"x":1,"y":0},{"p":1999,"x":1.25,"y":4},{"p":1999,"x":1.75,"y":2},{"p":1999,"x":2.25,"y":15},{"p":1999,"x":2.75,"y":9},{"p":1999,"x":3.25,"y":-14},{"p":1999,"x":3.75,"y":-26},{"p":1999,"x":4.25,"y":-17},{"p":1999,"x":4.75,"y":-51},{"p":1999,"x":5.25,"y":-47},{"p":1999,"x":5.75,"y":-31},{"p":1999,"x":6.25,"y":-18},{"p":1999,"x":6.75,"y":-19},{"p":1999,"x":7.25,"y":-14},{"p":1999,"x":7.75,"y":-10},{"p":1999,"x":8.25,"y":-6},{"p":1999,"x":8.75,"y":-4},{"p":1999,"x":9.25,"y":1},{"p":1999,"x":9.75,"y":6},{"p":1999,"x":10.25,"y":-8},{"p":1999,"x":10.75,"y":-21},{"p":1999,"x":11.17,"y":-72},{"p":1999,"x":11.75,"y":-28},{"p":1999,"x":12.25,"y":-17},{"p":1999,"x":12.75,"y":-19},{"p":1999,"x":13.25,"y":5},{"p":1999,"x":13.75,"y":9},{"p":1999,"x":14.25,"y":18},{"p":1999,"x":14.75,"y":26},{"p":1999,"x":15.25,"y":38},{"p":1999,"x":15.75,"y":44},{"p":1999,"x":16,"y":36},
{"p":2000,"x":1,"y":0},{"p":2000,"x":1.25,"y":1},{"p":2000,"x":1.75,"y":-6},{"p":2000,"x":2.25,"y":-29},{"p":2000,"x":2.75,"y":-41},{"p":2000,"x":3.25,"y":-32},{"p":2000,"x":3.75,"y":-66},{"p":2000,"x":4.25,"y":-62},{"p":2000,"x":4.75,"y":-45},{"p":2000,"x":5.25,"y":-33},{"p":2000,"x":5.75,"y":-34},{"p":2000,"x":6.25,"y":-28},{"p":2000,"x":6.75,"y":-25},{"p":2000,"x":7.25,"y":-20},{"p":2000,"x":7.75,"y":-19},{"p":2000,"x":8.25,"y":-14},{"p":2000,"x":8.75,"y":-8},{"p":2000,"x":9.25,"y":-23},{"p":2000,"x":9.75,"y":-35},{"p":2000,"x":10.17,"y":-86},{"p":2000,"x":10.75,"y":-43},{"p":2000,"x":11.25,"y":-32},{"p":2000,"x":11.75,"y":-33},{"p":2000,"x":12.25,"y":-17},{"p":2000,"x":12.75,"y":-32},{"p":2000,"x":13.25,"y":-9},{"p":2000,"x":13.75,"y":-6},{"p":2000,"x":14.25,"y":4},{"p":2000,"x":14.75,"y":12},{"p":2000,"x":15.25,"y":24},{"p":2000,"x":15.75,"y":30},{"p":2000,"x":16,"y":35},
{"p":2001,"x":1,"y":0},{"p":2001,"x":1.25,"y":-13},{"p":2001,"x":1.75,"y":-26},{"p":2001,"x":2.25,"y":-16},{"p":2001,"x":2.75,"y":-51},{"p":2001,"x":3.25,"y":-46},{"p":2001,"x":3.75,"y":-30},{"p":2001,"x":4.25,"y":-17},{"p":2001,"x":4.75,"y":-18},{"p":2001,"x":5.25,"y":-13},{"p":2001,"x":5.75,"y":-10},{"p":2001,"x":6.25,"y":-5},{"p":2001,"x":6.75,"y":-4},{"p":2001,"x":7.25,"y":1},{"p":2001,"x":7.75,"y":7},{"p":2001,"x":8.25,"y":-8},{"p":2001,"x":8.75,"y":-20},{"p":2001,"x":9.17,"y":-71},{"p":2001,"x":9.75,"y":-28},{"p":2001,"x":10.25,"y":-16},{"p":2001,"x":10.75,"y":-18},{"p":2001,"x":11.25,"y":-2},{"p":2001,"x":11.75,"y":-17},{"p":2001,"x":12.25,"y":6},{"p":2001,"x":12.75,"y":9},{"p":2001,"x":13.25,"y":19},{"p":2001,"x":13.75,"y":27},{"p":2001,"x":14.25,"y":39},{"p":2001,"x":14.75,"y":45},{"p":2001,"x":15.25,"y":51},{"p":2001,"x":15.75,"y":44},{"p":2001,"x":16,"y":51},
{"p":2002,"x":1,"y":0},{"p":2002,"x":1.25,"y":0},{"p":2002,"x":1.75,"y":-34},{"p":2002,"x":2.25,"y":-30},{"p":2002,"x":2.75,"y":-14},{"p":2002,"x":3.25,"y":-1},{"p":2002,"x":3.75,"y":-2},{"p":2002,"x":4.25,"y":3},{"p":2002,"x":4.75,"y":7},{"p":2002,"x":5.25,"y":11},{"p":2002,"x":5.75,"y":13},{"p":2002,"x":6.25,"y":18},{"p":2002,"x":6.75,"y":23},{"p":2002,"x":7.25,"y":9},{"p":2002,"x":7.75,"y":-3},{"p":2002,"x":8.17,"y":-55},{"p":2002,"x":8.75,"y":-11},{"p":2002,"x":9.25,"y":0},{"p":2002,"x":9.75,"y":-2},{"p":2002,"x":10.25,"y":14},{"p":2002,"x":10.75,"y":0},{"p":2002,"x":11.25,"y":22},{"p":2002,"x":11.75,"y":26},{"p":2002,"x":12.25,"y":35},{"p":2002,"x":12.75,"y":43},{"p":2002,"x":13.25,"y":55},{"p":2002,"x":13.75,"y":61},{"p":2002,"x":14.25,"y":67},{"p":2002,"x":14.75,"y":61},{"p":2002,"x":15.25,"y":69},{"p":2002,"x":15.75,"y":75},{"p":2002,"x":16,"y":78},
{"p":2003,"x":1,"y":0},{"p":2003,"x":1.25,"y":-3},{"p":2003,"x":1.75,"y":13},{"p":2003,"x":2.25,"y":26},{"p":2003,"x":2.75,"y":25},{"p":2003,"x":3.25,"y":30},{"p":2003,"x":3.75,"y":33},{"p":2003,"x":4.25,"y":38},{"p":2003,"x":4.75,"y":39},{"p":2003,"x":5.25,"y":44},{"p":2003,"x":5.75,"y":50},{"p":2003,"x":6.25,"y":35},{"p":2003,"x":6.75,"y":23},{"p":2003,"x":7.17,"y":-28},{"p":2003,"x":7.75,"y":15},{"p":2003,"x":8.25,"y":27},{"p":2003,"x":8.75,"y":25},{"p":2003,"x":9.25,"y":41},{"p":2003,"x":9.75,"y":26},{"p":2003,"x":10.25,"y":49},{"p":2003,"x":10.75,"y":52},{"p":2003,"x":11.25,"y":62},{"p":2003,"x":11.75,"y":70},{"p":2003,"x":12.25,"y":82},{"p":2003,"x":12.75,"y":88},{"p":2003,"x":13.25,"y":94},{"p":2003,"x":13.75,"y":87},{"p":2003,"x":14.25,"y":95},{"p":2003,"x":14.75,"y":101},{"p":2003,"x":15.25,"y":111},{"p":2003,"x":15.75,"y":118},{"p":2003,"x":16,"y":124},
{"p":2004,"x":1,"y":0},{"p":2004,"x":1.25,"y":1},{"p":2004,"x":1.75,"y":0},{"p":2004,"x":2.25,"y":6},{"p":2004,"x":2.75,"y":9},{"p":2004,"x":3.25,"y":13},{"p":2004,"x":3.75,"y":15},{"p":2004,"x":4.25,"y":20},{"p":2004,"x":4.75,"y":26},{"p":2004,"x":5.25,"y":11},{"p":2004,"x":5.75,"y":-1},{"p":2004,"x":6.17,"y":-52},{"p":2004,"x":6.75,"y":-9},{"p":2004,"x":7.25,"y":2},{"p":2004,"x":7.75,"y":1},{"p":2004,"x":8.25,"y":17},{"p":2004,"x":8.75,"y":2},{"p":2004,"x":9.25,"y":25},{"p":2004,"x":9.75,"y":28},{"p":2004,"x":10.25,"y":38},{"p":2004,"x":10.75,"y":46},{"p":2004,"x":11.25,"y":58},{"p":2004,"x":11.75,"y":64},{"p":2004,"x":12.25,"y":69},{"p":2004,"x":12.75,"y":63},{"p":2004,"x":13.25,"y":71},{"p":2004,"x":13.75,"y":77},{"p":2004,"x":14.25,"y":87},{"p":2004,"x":14.75,"y":93},{"p":2004,"x":15.25,"y":99},{"p":2004,"x":15.75,"y":109},{"p":2004,"x":16,"y":93},
{"p":2005,"x":1,"y":0},{"p":2005,"x":1.25,"y":-3},{"p":2005,"x":1.75,"y":0},{"p":2005,"x":2.25,"y":5},{"p":2005,"x":2.75,"y":6},{"p":2005,"x":3.25,"y":11},{"p":2005,"x":3.75,"y":17},{"p":2005,"x":4.25,"y":2},{"p":2005,"x":4.75,"y":-10},{"p":2005,"x":5.17,"y":-61},{"p":2005,"x":5.75,"y":-18},{"p":2005,"x":6.25,"y":-6},{"p":2005,"x":6.75,"y":-8},{"p":2005,"x":7.25,"y":8},{"p":2005,"x":7.75,"y":-7},{"p":2005,"x":8.25,"y":16},{"p":2005,"x":8.75,"y":19},{"p":2005,"x":9.25,"y":29},{"p":2005,"x":9.75,"y":37},{"p":2005,"x":10.25,"y":49},{"p":2005,"x":10.75,"y":55},{"p":2005,"x":11.25,"y":61},{"p":2005,"x":11.75,"y":54},{"p":2005,"x":12.25,"y":62},{"p":2005,"x":12.75,"y":68},{"p":2005,"x":13.25,"y":78},{"p":2005,"x":13.75,"y":84},{"p":2005,"x":14.25,"y":90},{"p":2005,"x":14.75,"y":100},{"p":2005,"x":15.25,"y":97},{"p":2005,"x":15.75,"y":102},{"p":2005,"x":16,"y":110},
{"p":2006,"x":1,"y":0},{"p":2006,"x":1.25,"y":3},{"p":2006,"x":1.75,"y":5},{"p":2006,"x":2.25,"y":9},{"p":2006,"x":2.75,"y":15},{"p":2006,"x":3.25,"y":1},{"p":2006,"x":3.75,"y":-12},{"p":2006,"x":4.17,"y":-63},{"p":2006,"x":4.75,"y":-20},{"p":2006,"x":5.25,"y":-8},{"p":2006,"x":5.75,"y":-10},{"p":2006,"x":6.25,"y":6},{"p":2006,"x":6.75,"y":-9},{"p":2006,"x":7.25,"y":14},{"p":2006,"x":7.75,"y":18},{"p":2006,"x":8.25,"y":27},{"p":2006,"x":8.75,"y":35},{"p":2006,"x":9.25,"y":47},{"p":2006,"x":9.75,"y":53},{"p":2006,"x":10.25,"y":59},{"p":2006,"x":10.75,"y":52},{"p":2006,"x":11.25,"y":61},{"p":2006,"x":11.75,"y":67},{"p":2006,"x":12.25,"y":76},{"p":2006,"x":12.75,"y":83},{"p":2006,"x":13.25,"y":88},{"p":2006,"x":13.75,"y":98},{"p":2006,"x":14.25,"y":95},{"p":2006,"x":14.75,"y":100},{"p":2006,"x":15.25,"y":86},{"p":2006,"x":15.75,"y":113},{"p":2006,"x":16,"y":124},
{"p":2007,"x":1,"y":0},{"p":2007,"x":1.25,"y":-1},{"p":2007,"x":1.75,"y":5},{"p":2007,"x":2.25,"y":-9},{"p":2007,"x":2.75,"y":-22},{"p":2007,"x":3.17,"y":-73},{"p":2007,"x":3.75,"y":-30},{"p":2007,"x":4.25,"y":-18},{"p":2007,"x":4.75,"y":-20},{"p":2007,"x":5.25,"y":-4},{"p":2007,"x":5.75,"y":-19},{"p":2007,"x":6.25,"y":4},{"p":2007,"x":6.75,"y":8},{"p":2007,"x":7.25,"y":17},{"p":2007,"x":7.75,"y":25},{"p":2007,"x":8.25,"y":37},{"p":2007,"x":8.75,"y":43},{"p":2007,"x":9.25,"y":49},{"p":2007,"x":9.75,"y":42},{"p":2007,"x":10.25,"y":51},{"p":2007,"x":10.75,"y":57},{"p":2007,"x":11.25,"y":66},{"p":2007,"x":11.75,"y":73},{"p":2007,"x":12.25,"y":78},{"p":2007,"x":12.75,"y":88},{"p":2007,"x":13.25,"y":85},{"p":2007,"x":13.75,"y":90},{"p":2007,"x":14.25,"y":76},{"p":2007,"x":14.75,"y":103},{"p":2007,"x":15.25,"y":120},{"p":2007,"x":15.75,"y":129},{"p":2007,"x":16,"y":140},
{"p":2008,"x":1,"y":0},{"p":2008,"x":1.25,"y":-10},{"p":2008,"x":1.75,"y":-22},{"p":2008,"x":2.17,"y":-74},{"p":2008,"x":2.75,"y":-30},{"p":2008,"x":3.25,"y":-19},{"p":2008,"x":3.75,"y":-21},{"p":2008,"x":4.25,"y":-4},{"p":2008,"x":4.75,"y":-19},{"p":2008,"x":5.25,"y":3},{"p":2008,"x":5.75,"y":7},{"p":2008,"x":6.25,"y":16},{"p":2008,"x":6.75,"y":24},{"p":2008,"x":7.25,"y":36},{"p":2008,"x":7.75,"y":42},{"p":2008,"x":8.25,"y":48},{"p":2008,"x":8.75,"y":42},{"p":2008,"x":9.25,"y":50},{"p":2008,"x":9.75,"y":56},{"p":2008,"x":10.25,"y":65},{"p":2008,"x":10.75,"y":72},{"p":2008,"x":11.25,"y":77},{"p":2008,"x":11.75,"y":87},{"p":2008,"x":12.25,"y":84},{"p":2008,"x":12.75,"y":89},{"p":2008,"x":13.25,"y":75},{"p":2008,"x":13.75,"y":102},{"p":2008,"x":14.25,"y":120},{"p":2008,"x":14.75,"y":128},{"p":2008,"x":15.25,"y":134},{"p":2008,"x":15.75,"y":111},{"p":2008,"x":16,"y":117},
{"p":2009,"x":1,"y":0},{"p":2009,"x":1.17,"y":-26},{"p":2009,"x":1.75,"y":17},{"p":2009,"x":2.25,"y":29},{"p":2009,"x":2.75,"y":27},{"p":2009,"x":3.25,"y":43},{"p":2009,"x":3.75,"y":28},{"p":2009,"x":4.25,"y":51},{"p":2009,"x":4.75,"y":54},{"p":2009,"x":5.25,"y":64},{"p":2009,"x":5.75,"y":72},{"p":2009,"x":6.25,"y":84},{"p":2009,"x":6.75,"y":90},{"p":2009,"x":7.25,"y":96},{"p":2009,"x":7.75,"y":89},{"p":2009,"x":8.25,"y":97},{"p":2009,"x":8.75,"y":104},{"p":2009,"x":9.25,"y":113},{"p":2009,"x":9.75,"y":120},{"p":2009,"x":10.25,"y":125},{"p":2009,"x":10.75,"y":135},{"p":2009,"x":11.25,"y":132},{"p":2009,"x":11.75,"y":137},{"p":2009,"x":12.25,"y":123},{"p":2009,"x":12.75,"y":150},{"p":2009,"x":13.25,"y":163},{"p":2009,"x":13.75,"y":171},{"p":2009,"x":14,"y":180},{"p":2009,"x":14.25,"y":175},{"p":2009,"x":14.75,"y":151},{"p":2009,"x":15.25,"y":164},{"p":2009,"x":15.75,"y":166},{"p":2009,"x":16,"y":168}
]},
"layer":[
{"data":{"values":[{"y":0}]},"mark":{"type":"rule","color":"#d9d9d9","strokeWidth":1},"encoding":{"y":{"field":"y","type":"quantitative","scale":{"domain":[-100,200]}}}},
{"data":{"values":[{"x":1}]},"mark":{"type":"rule","color":"#a8a8a8","strokeWidth":1},"encoding":{"x":{"field":"x","type":"quantitative","scale":{"domain":[1,17]}}}},
{"data":{"name":"g"},"mark":{"type":"line","stroke":"#979797","strokeWidth":1,"strokeJoin":"round"},
"encoding":{"x":{"field":"x","type":"quantitative","scale":{"domain":[1,17],"nice":false,"zero":false},"axis":{"values":[1,2,3,4,5,6,7,8,9,10,11,12,13,14,15],"title":null,"grid":false,"ticks":false,"domainColor":"#b0b0b0","labelFont":"Lato","labelFontSize":15,"labelColor":"#111111","labelPadding":17,"labelFlush":false}},
"y":{"field":"y","type":"quantitative","scale":{"domain":[-100,200],"nice":false},"axis":{"orient":"right","values":[-100,-50,0,50,100,150,200],"labelExpr":"datum.value + '%'","title":null,"grid":false,"ticks":false,"domain":false,"labelFont":"Lato","labelFontSize":16,"labelColor":"#111111","labelPadding":17,"labelFlush":false}},
"detail":{"field":"p","type":"nominal"}}},
{"data":{"name":"b"},"mark":{"type":"line","stroke":"#0b16d2","strokeWidth":5,"strokeJoin":"round","strokeCap":"round"},"encoding":{"x":{"field":"x","type":"quantitative"},"y":{"field":"y","type":"quantitative"}}},
{"data":{"values":[{"x":1.22,"y":173,"t":"2010 - 2024, 12.2%"}]},"mark":{"type":"text","align":"left","baseline":"alphabetic","font":"Lato","fontSize":16,"fontWeight":600,"color":"#1a1a8e"},"encoding":{"x":{"field":"x","type":"quantitative"},"y":{"field":"y","type":"quantitative"},"text":{"field":"t"}}},
{"data":{"values":[{"x":1.22,"y":146,"t":"Average: 5.9%"}]},"mark":{"type":"text","align":"left","baseline":"alphabetic","font":"Lato","fontSize":16,"fontWeight":600,"color":"#a6a6a6"},"encoding":{"x":{"field":"x","type":"quantitative"},"y":{"field":"y","type":"quantitative"},"text":{"field":"t"}}}
]}
